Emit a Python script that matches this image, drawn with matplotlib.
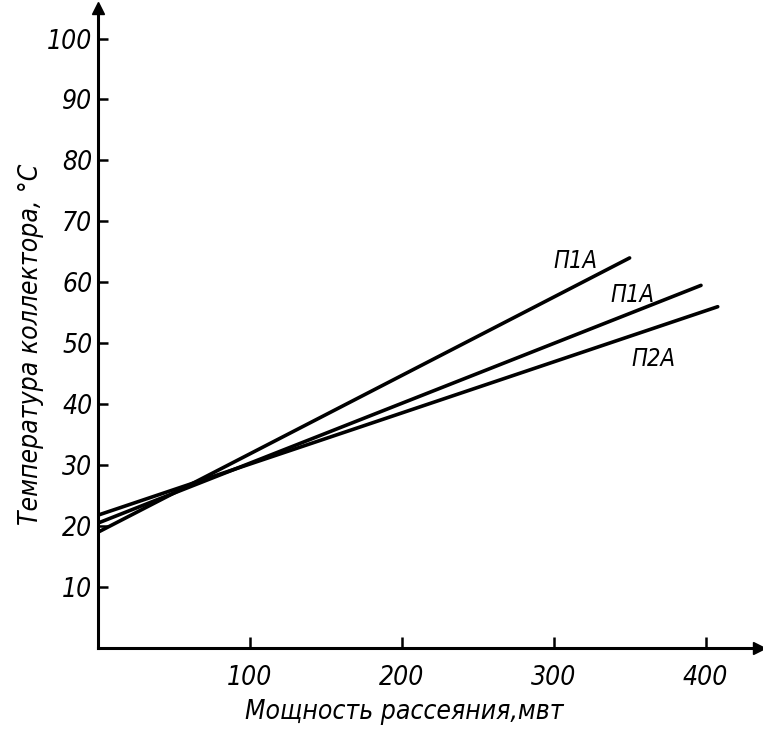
import matplotlib
matplotlib.use("Agg")
from matplotlib import pyplot as plt

# Data: power (mW) vs collector temperature (deg C)
power_p1a_upper = [0, 350]
temp_p1a_upper = [19.0, 64.0]
power_p1a_mid = [0, 397]
temp_p1a_mid = [20.5, 59.5]
power_p2a = [0, 408]
temp_p2a = [21.8, 56.0]

labels = ["П1А", "П1А", "П2А"]
label_pos = [(314, 63.5), (352, 58.0), (366, 47.5)]

x_ticks = [100, 200, 300, 400]
y_ticks = [10, 20, 30, 40, 50, 60, 70, 80, 90, 100]

plt.rcParams["font.family"] = ["DejaVu Sans"]
plt.rcParams["font.stretch"] = "condensed"

fig = plt.figure(figsize=(7.63, 7.31), dpi=100)
ax = fig.add_axes([0.1284, 0.1135, 0.866, 0.8755])

for xs, ys in [(power_p1a_upper, temp_p1a_upper),
               (power_p1a_mid, temp_p1a_mid),
               (power_p2a, temp_p2a)]:
    ax.plot(xs, ys, color="black", lw=2.6, solid_capstyle="round")

for txt, (x, y) in zip(labels, label_pos):
    ax.text(x, y, txt, fontsize=17, style="italic", stretch="condensed",
            ha="center", va="center")

ax.set_xlim(0, 435)
ax.set_ylim(0, 105)

for s in ["top", "right"]:
    ax.spines[s].set_visible(False)
for s in ["left", "bottom"]:
    ax.spines[s].set_linewidth(2.2)

# arrow heads on the axes
ax.plot(1, 0, ">", color="black", ms=9, transform=ax.transAxes, clip_on=False)
ax.plot(0, 1, "^", color="black", ms=9, transform=ax.transAxes, clip_on=False)

ax.set_xticks(x_ticks)
ax.set_yticks(y_ticks)
ax.tick_params(axis="x", direction="in", length=8, width=1.8, pad=12, labelsize=19)
ax.tick_params(axis="y", direction="in", length=7, width=1.8, pad=4, labelsize=19)
for lbl in ax.get_xticklabels() + ax.get_yticklabels():
    lbl.set_style("italic")
    lbl.set_stretch("condensed")

ax.set_xlabel("Мощность рассеяния,мвт", fontsize=19, style="italic",
              stretch="condensed")
ax.set_ylabel("Температура коллектора, °C", fontsize=19, style="italic",
              stretch="condensed")
ax.xaxis.set_label_coords(0.464, -0.08)
ax.yaxis.set_label_coords(-0.082, 0.475)

fig.savefig("out.png", dpi=100)
